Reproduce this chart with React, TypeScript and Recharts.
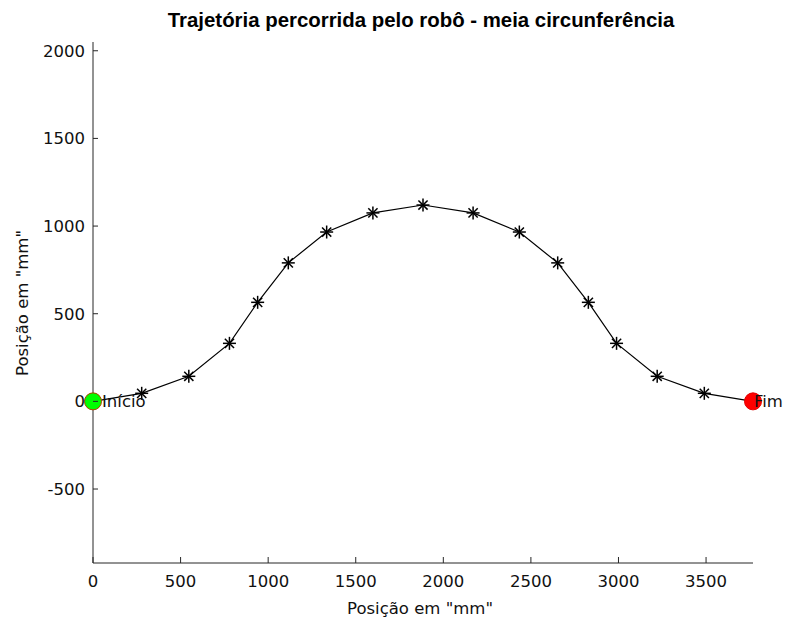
import React from "react";
import {
  ComposedChart,
  Line,
  XAxis,
  YAxis,
  ReferenceDot,
} from "recharts";

// trajectory samples (mm)
const xPos = [0, 278, 547, 779, 940, 1115, 1334, 1598, 1884, 2170, 2434, 2653, 2828, 2989, 3221, 3490, 3768];
const yPos = [0, 46, 143, 331, 565, 790, 966, 1075, 1120, 1075, 966, 790, 565, 331, 143, 46, 0];

const xTicks = [0, 500, 1000, 1500, 2000, 2500, 3000, 3500];
const yTicks = [-500, 0, 500, 1000, 1500, 2000];

const startPoint = { x: 0, y: 0, label: "Início" };
const endPoint = { x: 3768, y: 0, label: "Fim" };

const data = xPos.map((x, i) => ({ x, y: yPos[i] }));

const FONT = "'DejaVu Sans', sans-serif";
const AXIS = "#262626";

function Star({ cx, cy }: { cx: number; cy: number }) {
  const a = 6.5;
  const d = 4.6;
  return (
    <g stroke="#000" strokeWidth={1.5}>
      <line x1={cx - a} y1={cy} x2={cx + a} y2={cy} />
      <line x1={cx} y1={cy - a} x2={cx} y2={cy + a} />
      <line x1={cx - d} y1={cy - d} x2={cx + d} y2={cy + d} />
      <line x1={cx - d} y1={cy + d} x2={cx + d} y2={cy - d} />
    </g>
  );
}

function XTick(props: any) {
  const { x, y, payload } = props;
  return (
    <g>
      <line x1={x} y1={y} x2={x} y2={y - 6} stroke={AXIS} strokeWidth={1} />
      <text x={x} y={y + 24} textAnchor="middle" fontFamily={FONT} fontSize={16.5} fill="#111">
        {payload.value}
      </text>
    </g>
  );
}

function YTick(props: any) {
  const { x, y, payload } = props;
  return (
    <g>
      <line x1={x} y1={y} x2={x + 5} y2={y} stroke={AXIS} strokeWidth={1} />
      <text x={x - 8} y={y} dy="0.36em" textAnchor="end" fontFamily={FONT} fontSize={16.5} fill="#111">
        {payload.value}
      </text>
    </g>
  );
}

function endMarker(fill: string, edge: string, label: string, dx: number) {
  return (props: any) => {
    const { cx, cy } = props;
    return (
      <g>
        <circle cx={cx} cy={cy} r={8.5} fill={fill} stroke={edge} strokeWidth={1} />
        <text x={cx + dx} y={cy} dy="0.36em" fontFamily={FONT} fontSize={16.5} fill="#111">
          {label}
        </text>
      </g>
    );
  };
}

export default function App() {
  return (
    <div style={{ position: "absolute", left: 0, top: 0, width: 787, height: 622, background: "#fff" }}>
      <ComposedChart
        width={787}
        height={622}
        data={data}
        margin={{ top: 42, right: 34, bottom: 0, left: 0 }}
      >
        <XAxis
          dataKey="x"
          type="number"
          domain={[0, 3768]}
          ticks={xTicks}
          allowDataOverflow
          height={59}
          stroke={AXIS}
          tickSize={0}
          tickMargin={0}
          tick={<XTick />}
          interval={0}
        />
        <YAxis
          dataKey="y"
          type="number"
          domain={[-922, 2050]}
          ticks={yTicks}
          allowDataOverflow
          width={93}
          stroke={AXIS}
          tickSize={0}
          tickMargin={0}
          tick={<YTick />}
          interval={0}
        />
        <Line
          dataKey="y"
          type="linear"
          stroke="#000"
          strokeWidth={1.2}
          isAnimationActive={false}
          dot={(p: any) => <Star key={`s-${p.index}`} cx={p.cx} cy={p.cy} />}
          activeDot={false}
        />
        <ReferenceDot
          x={startPoint.x}
          y={startPoint.y}
          r={8.5}
          shape={endMarker("#00ff00", "#b04000", startPoint.label, 9)}
          ifOverflow="visible"
        />
        <ReferenceDot
          x={endPoint.x}
          y={endPoint.y}
          r={8.5}
          shape={endMarker("#ff0000", "#e00000", endPoint.label, 1)}
          ifOverflow="visible"
        />
      </ComposedChart>
      <svg
        width={787}
        height={622}
        style={{ position: "absolute", left: 0, top: 0, pointerEvents: "none" }}
      >
        <text x={421} y={27} textAnchor="middle" fontFamily="'Liberation Sans', Arial, sans-serif" fontWeight="bold" fontSize={20.4} fill="#000">
          Trajetória percorrida pelo robô - meia circunferência
        </text>
        <text x={420} y={614} textAnchor="middle" fontFamily={FONT} fontSize={16.5} fill="#111">
          Posição em "mm"
        </text>
        <text
          x={0}
          y={0}
          transform="translate(28, 303) rotate(-90)"
          textAnchor="middle"
          fontFamily={FONT}
          fontSize={16.5}
          fill="#111"
        >
          Posição em "mm"
        </text>
      </svg>
    </div>
  );
}
